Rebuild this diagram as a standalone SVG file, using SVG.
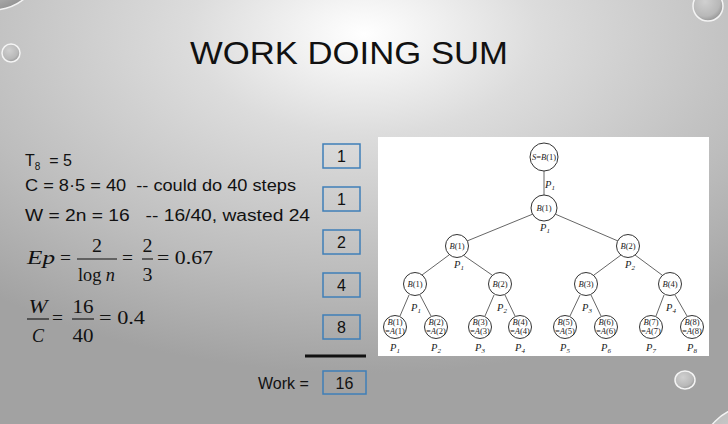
<svg xmlns="http://www.w3.org/2000/svg" width="728" height="424" viewBox="0 0 728 424">
  <defs>
    <radialGradient id="bg" cx="0.5" cy="0.08" r="0.8" fx="0.5" fy="0.08">
      <stop offset="0" stop-color="#ffffff"/>
      <stop offset="0.3" stop-color="#dcdcdc"/>
      <stop offset="0.7" stop-color="#bdbdbd"/>
      <stop offset="1" stop-color="#a2a2a2"/>
    </radialGradient>
    <radialGradient id="bubble" cx="0.4" cy="0.35" r="0.7">
      <stop offset="0" stop-color="#d0d0d0"/>
      <stop offset="0.7" stop-color="#b8b8b8"/>
      <stop offset="1" stop-color="#909090"/>
    </radialGradient>
    <style>
      .t { font-family: "Liberation Sans", "DejaVu Sans", sans-serif; fill: #111; }
      .m { font-family: "Liberation Serif", "DejaVu Serif", serif; fill: #111; font-size: 18px; }
      .mi { font-style: italic; }
      .box { fill: none; stroke: #3f7fb8; stroke-width: 1.5; }
      .num { font-family: "Liberation Sans", "DejaVu Sans", sans-serif; font-size: 16px; text-anchor: middle; fill: #111; }
      .bar { stroke: #111; stroke-width: 1.1; }
      .node circle { fill: #fff; stroke: #333; stroke-width: 1; }
      .node text { font-family: "Liberation Serif", "DejaVu Serif", serif; font-size: 8.5px; text-anchor: middle; fill: #222; }
      .edges line { stroke: #555; stroke-width: 0.9; }
      .plab { font-family: "Liberation Serif", "DejaVu Serif", serif; font-size: 10.5px; font-style: italic; fill: #222; text-anchor: middle; }
      .bub { fill: url(#bubble); stroke: #f4f4f4; stroke-width: 1.5; }
    </style>
  </defs>

  <!-- slide background -->
  <rect x="0" y="0" width="728" height="424" fill="url(#bg)"/>

  <!-- decorative bubbles -->
  <g id="bubbles">
    <circle class="bub" cx="-8" cy="-42" r="52"/>
    <circle class="bub" cx="11" cy="53" r="9"/>
    <circle class="bub" cx="708" cy="6" r="15"/>
    <ellipse class="bub" cx="685" cy="380" rx="10" ry="9"/>
    <circle class="bub" cx="752" cy="458" r="52"/>
  </g>

  <!-- title -->
  <text class="t" x="349" y="64" font-size="32" text-anchor="middle" textLength="318" lengthAdjust="spacingAndGlyphs">WORK DOING SUM</text>

  <!-- left-hand working -->
  <g id="work-text">
    <text class="t" x="25" y="166" font-size="16">T<tspan font-size="10" dy="4">8</tspan><tspan dy="-4" xml:space="preserve">  = 5</tspan></text>
    <text class="t" x="25" y="191" font-size="16" textLength="271" lengthAdjust="spacingAndGlyphs" xml:space="preserve">C = 8·5 = 40  -- could do 40 steps</text>
    <text class="t" x="25" y="221" font-size="16" textLength="285" lengthAdjust="spacingAndGlyphs" xml:space="preserve">W = 2n = 16   -- 16/40, wasted 24</text>
  </g>

  <!-- Ep = 2 / log n = 2/3 = 0.67 -->
  <g id="eq-ep">
    <text class="m mi" x="27" y="264" textLength="28" lengthAdjust="spacingAndGlyphs">Ep</text>
    <text class="m" x="60" y="264" textLength="11" lengthAdjust="spacingAndGlyphs">=</text>
    <text class="m" x="97" y="252" text-anchor="middle" textLength="10" lengthAdjust="spacingAndGlyphs">2</text>
    <line class="bar" x1="77" y1="259" x2="117" y2="259"/>
    <text class="m" x="78" y="281" textLength="37" lengthAdjust="spacingAndGlyphs">log <tspan class="mi">n</tspan></text>
    <text class="m" x="122" y="264" textLength="11" lengthAdjust="spacingAndGlyphs">=</text>
    <text class="m" x="147.5" y="252" text-anchor="middle" textLength="10" lengthAdjust="spacingAndGlyphs">2</text>
    <line class="bar" x1="142" y1="259" x2="153" y2="259"/>
    <text class="m" x="147.5" y="281" text-anchor="middle" textLength="10" lengthAdjust="spacingAndGlyphs">3</text>
    <text class="m" x="157" y="264" textLength="56" lengthAdjust="spacingAndGlyphs">= 0.67</text>
  </g>

  <!-- W / C = 16/40 = 0.4 -->
  <g id="eq-wc">
    <text class="m mi" x="38" y="313" text-anchor="middle" textLength="19" lengthAdjust="spacingAndGlyphs">W</text>
    <line class="bar" x1="27" y1="319" x2="49" y2="319"/>
    <text class="m mi" x="38" y="342" text-anchor="middle">C</text>
    <text class="m" x="52" y="324" textLength="11" lengthAdjust="spacingAndGlyphs">=</text>
    <text class="m" x="83" y="313" text-anchor="middle" textLength="21" lengthAdjust="spacingAndGlyphs">16</text>
    <line class="bar" x1="72" y1="319" x2="94" y2="319"/>
    <text class="m" x="83" y="342" text-anchor="middle" textLength="21" lengthAdjust="spacingAndGlyphs">40</text>
    <text class="m" x="99" y="324" textLength="46" lengthAdjust="spacingAndGlyphs">= 0.4</text>
  </g>

  <!-- per-level work counts -->
  <g id="counts">
    <rect class="box" x="323" y="144" width="37" height="24"/>
    <text class="num" x="341.5" y="162">1</text>
    <rect class="box" x="323" y="187" width="37" height="24"/>
    <text class="num" x="341.5" y="205">1</text>
    <rect class="box" x="323" y="230" width="37" height="24"/>
    <text class="num" x="341.5" y="248">2</text>
    <rect class="box" x="323" y="273" width="37" height="24"/>
    <text class="num" x="341.5" y="291">4</text>
    <rect class="box" x="323" y="315" width="37" height="24"/>
    <text class="num" x="341.5" y="333">8</text>
    <line x1="305" y1="356" x2="366" y2="356" stroke="#111" stroke-width="3"/>
    <text class="t" x="258" y="389" font-size="16">Work =</text>
    <rect class="box" x="323" y="371" width="43" height="23"/>
    <text class="num" x="344.5" y="389">16</text>
  </g>

  <!-- tree panel -->
  <rect x="378" y="137" width="331" height="219" fill="#ffffff"/>

  <g class="edges" id="connectors">
    <line x1="544" y1="171" x2="544" y2="195"/>
    <line x1="533" y1="214" x2="467" y2="241"/>
    <line x1="555" y1="214" x2="618" y2="241"/>
    <line x1="449" y1="255" x2="422" y2="275"/>
    <line x1="463" y1="255" x2="492" y2="275"/>
    <line x1="621" y1="255" x2="594" y2="275"/>
    <line x1="635" y1="255" x2="662" y2="275"/>
    <line x1="409" y1="295" x2="400" y2="316"/>
    <line x1="420" y1="295" x2="431" y2="316"/>
    <line x1="494" y1="295" x2="485" y2="316"/>
    <line x1="505" y1="295" x2="515" y2="316"/>
    <line x1="580" y1="295" x2="570" y2="316"/>
    <line x1="591" y1="295" x2="601" y2="316"/>
    <line x1="664" y1="295" x2="656" y2="316"/>
    <line x1="675" y1="295" x2="687" y2="316"/>
  </g>

  <g class="node" id="n-root"><circle cx="544" cy="157" r="14"/><text x="544" y="160"><tspan font-style="italic">S</tspan>=<tspan font-style="italic">B</tspan>(1)</text></g>
  <g class="node" id="n-l1"><circle cx="544" cy="208" r="13"/><text x="544" y="211"><tspan font-style="italic">B</tspan>(1)</text></g>
  <g class="node" id="n-l2a"><circle cx="457" cy="246" r="11.5"/><text x="457" y="249"><tspan font-style="italic">B</tspan>(1)</text></g>
  <g class="node" id="n-l2b"><circle cx="628" cy="246" r="11.5"/><text x="628" y="249"><tspan font-style="italic">B</tspan>(2)</text></g>
  <g class="node" id="n-l3a"><circle cx="415" cy="284" r="11.5"/><text x="415" y="287"><tspan font-style="italic">B</tspan>(1)</text></g>
  <g class="node" id="n-l3b"><circle cx="500" cy="284" r="11.5"/><text x="500" y="287"><tspan font-style="italic">B</tspan>(2)</text></g>
  <g class="node" id="n-l3c"><circle cx="586" cy="284" r="11.5"/><text x="586" y="287"><tspan font-style="italic">B</tspan>(3)</text></g>
  <g class="node" id="n-l3d"><circle cx="670" cy="284" r="11.5"/><text x="670" y="287"><tspan font-style="italic">B</tspan>(4)</text></g>

  <g class="node" id="n-leaf1"><circle cx="395" cy="327" r="11.5"/><text x="395" y="325"><tspan font-style="italic">B</tspan>(1)</text><text x="395" y="334">=<tspan font-style="italic">A</tspan>(1)</text></g>
  <g class="node" id="n-leaf2"><circle cx="436" cy="327" r="11.5"/><text x="436" y="325"><tspan font-style="italic">B</tspan>(2)</text><text x="436" y="334">=<tspan font-style="italic">A</tspan>(2)</text></g>
  <g class="node" id="n-leaf3"><circle cx="480" cy="327" r="11.5"/><text x="480" y="325"><tspan font-style="italic">B</tspan>(3)</text><text x="480" y="334">=<tspan font-style="italic">A</tspan>(3)</text></g>
  <g class="node" id="n-leaf4"><circle cx="520" cy="327" r="11.5"/><text x="520" y="325"><tspan font-style="italic">B</tspan>(4)</text><text x="520" y="334">=<tspan font-style="italic">A</tspan>(4)</text></g>
  <g class="node" id="n-leaf5"><circle cx="565" cy="327" r="11.5"/><text x="565" y="325"><tspan font-style="italic">B</tspan>(5)</text><text x="565" y="334">=<tspan font-style="italic">A</tspan>(5)</text></g>
  <g class="node" id="n-leaf6"><circle cx="606" cy="327" r="11.5"/><text x="606" y="325"><tspan font-style="italic">B</tspan>(6)</text><text x="606" y="334">=<tspan font-style="italic">A</tspan>(6)</text></g>
  <g class="node" id="n-leaf7"><circle cx="651" cy="327" r="11.5"/><text x="651" y="325"><tspan font-style="italic">B</tspan>(7)</text><text x="651" y="334">=<tspan font-style="italic">A</tspan>(7)</text></g>
  <g class="node" id="n-leaf8"><circle cx="692" cy="327" r="11.5"/><text x="692" y="325"><tspan font-style="italic">B</tspan>(8)</text><text x="692" y="334">=<tspan font-style="italic">A</tspan>(8)</text></g>

  <!-- processor labels -->
  <g id="proc-labels">
    <text class="plab" x="550" y="188">P<tspan font-size="7" dy="2">1</tspan></text>
    <text class="plab" x="545" y="231">P<tspan font-size="7" dy="2">1</tspan></text>
    <text class="plab" x="459" y="268">P<tspan font-size="7" dy="2">1</tspan></text>
    <text class="plab" x="630" y="268">P<tspan font-size="7" dy="2">2</tspan></text>
    <text class="plab" x="416" y="311">P<tspan font-size="7" dy="2">1</tspan></text>
    <text class="plab" x="502" y="311">P<tspan font-size="7" dy="2">2</tspan></text>
    <text class="plab" x="587" y="311">P<tspan font-size="7" dy="2">3</tspan></text>
    <text class="plab" x="671" y="311">P<tspan font-size="7" dy="2">4</tspan></text>
    <text class="plab" x="395" y="351">P<tspan font-size="7" dy="2">1</tspan></text>
    <text class="plab" x="436" y="351">P<tspan font-size="7" dy="2">2</tspan></text>
    <text class="plab" x="480" y="351">P<tspan font-size="7" dy="2">3</tspan></text>
    <text class="plab" x="520" y="351">P<tspan font-size="7" dy="2">4</tspan></text>
    <text class="plab" x="565" y="351">P<tspan font-size="7" dy="2">5</tspan></text>
    <text class="plab" x="606" y="351">P<tspan font-size="7" dy="2">6</tspan></text>
    <text class="plab" x="651" y="351">P<tspan font-size="7" dy="2">7</tspan></text>
    <text class="plab" x="692" y="351">P<tspan font-size="7" dy="2">8</tspan></text>
  </g>
</svg>
